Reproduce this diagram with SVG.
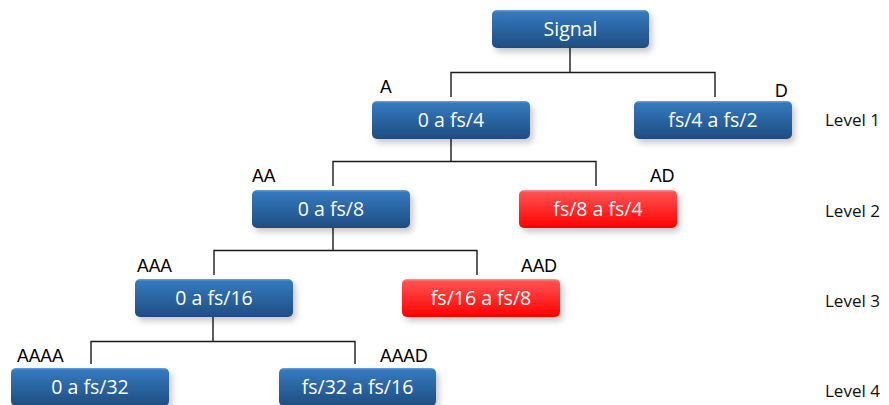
<svg xmlns="http://www.w3.org/2000/svg" width="889" height="405" viewBox="0 0 889 405">
<style>
.box{stroke:none}
.bt{font-family:"Open Sans","Liberation Sans",sans-serif;font-size:19.5px;fill:#fff;text-anchor:middle}
.lb{font-family:"Liberation Sans",Arial,sans-serif;font-size:17.5px;fill:#000}
.lv{font-family:"Open Sans","Liberation Sans",sans-serif;font-size:17px;fill:#111}
.ln{stroke:#1a1a1a;stroke-width:1.4;fill:none}
</style>
<defs>
<linearGradient id="gb" x1="0" y1="0" x2="0" y2="1">
<stop offset="0" stop-color="#6fa3dc"/>
<stop offset="0.06" stop-color="#3479bf"/>
<stop offset="1" stop-color="#1f4d80"/>
</linearGradient>
<linearGradient id="gr" x1="0" y1="0" x2="0" y2="1">
<stop offset="0" stop-color="#ff9a9a"/>
<stop offset="0.06" stop-color="#ff5252"/>
<stop offset="1" stop-color="#ff0000"/>
</linearGradient>
<filter id="sh" x="-10%" y="-20%" width="125%" height="160%">
<feDropShadow dx="3" dy="4" stdDeviation="3" flood-color="#000" flood-opacity="0.22"/>
</filter>
</defs>
<g id="connectors" class="ln">
<path d="M570 48V72.5M451 97V72.5H715V97"/>
<path d="M451 139V161.5M333 186V161.5H596V186"/>
<path d="M333 228V250.5M214 275V250.5H477V275"/>
<path d="M213 317V341.5M91 364V341.5H355V364"/>
</g>
<g id="signal"><rect class="box" x="492" y="10" width="157" height="38" rx="5" fill="url(#gb)" filter="url(#sh)"/><text class="bt" x="570.5" y="36">Signal</text></g>
<g id="nodeA"><rect class="box" x="372" y="101" width="158" height="38" rx="5" fill="url(#gb)" filter="url(#sh)"/><text class="bt" x="451" y="127">0 a fs/4</text><text class="lb" x="380" y="93">A</text></g>
<g id="nodeD"><rect class="box" x="634" y="101" width="158" height="38" rx="5" fill="url(#gb)" filter="url(#sh)"/><text class="bt" x="713" y="127">fs/4 a fs/2</text><text class="lb" x="775" y="97">D</text></g>
<g id="nodeAA"><rect class="box" x="252" y="190" width="158" height="38" rx="5" fill="url(#gb)" filter="url(#sh)"/><text class="bt" x="331" y="216">0 a fs/8</text><text class="lb" x="252" y="182">AA</text></g>
<g id="nodeAD"><rect class="box" x="519" y="190" width="158" height="38" rx="5" fill="url(#gr)" filter="url(#sh)"/><text class="bt" x="598" y="216">fs/8 a fs/4</text><text class="lb" x="650" y="182">AD</text></g>
<g id="nodeAAA"><rect class="box" x="135" y="279" width="158" height="38" rx="5" fill="url(#gb)" filter="url(#sh)"/><text class="bt" x="214" y="305">0 a fs/16</text><text class="lb" x="137" y="272">AAA</text></g>
<g id="nodeAAD"><rect class="box" x="402" y="279" width="158" height="38" rx="5" fill="url(#gr)" filter="url(#sh)"/><text class="bt" x="481" y="305">fs/16 a fs/8</text><text class="lb" x="521" y="272">AAD</text></g>
<g id="nodeAAAA"><rect class="box" x="11" y="368" width="158" height="38" rx="5" fill="url(#gb)" filter="url(#sh)"/><text class="bt" x="90" y="394">0 a fs/32</text><text class="lb" x="17" y="362">AAAA</text></g>
<g id="nodeAAAD"><rect class="box" x="279" y="368" width="157" height="38" rx="5" fill="url(#gb)" filter="url(#sh)"/><text class="bt" x="357.5" y="394">fs/32 a fs/16</text><text class="lb" x="380" y="362">AAAD</text></g>
<g id="levels">
<text class="lv" x="825" y="126">Level 1</text>
<text class="lv" x="825" y="217">Level 2</text>
<text class="lv" x="825" y="307">Level 3</text>
<text class="lv" x="825" y="397">Level 4</text>
</g>
</svg>
